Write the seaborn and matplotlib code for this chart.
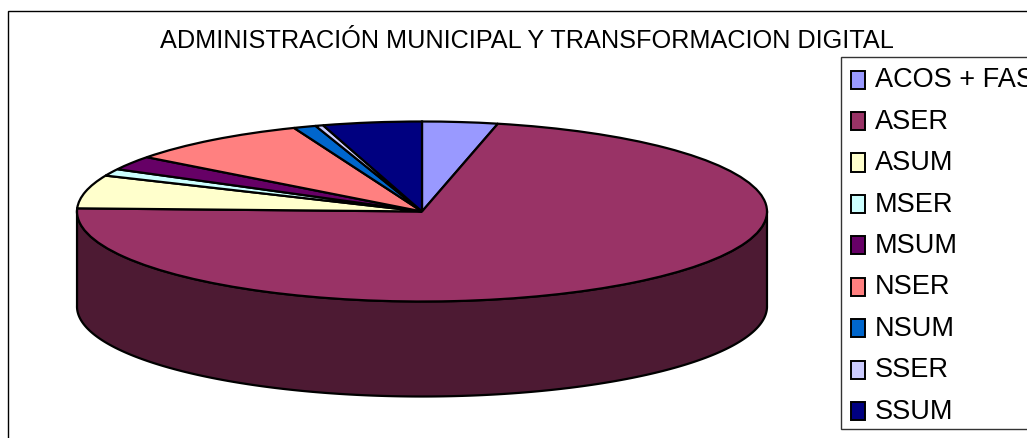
import numpy as np
import matplotlib
matplotlib.use("Agg")
import matplotlib.pyplot as plt
from matplotlib.legend_handler import HandlerPatch
from matplotlib.patches import Rectangle, Patch
import seaborn as sns

labels = ["ACOS + FAS", "ASER", "ASUM", "MSER", "MSUM", "NSER", "NSUM", "SSER", "SSUM"]
values = [3.53, 72.03, 5.97, 1.25, 2.53, 8.64, 1.06, 0.36, 4.63]
colors = ["#9999FF", "#993366", "#FFFFCC", "#CCFFFF", "#660066", "#FF8080", "#0066CC", "#CCCCFF", "#000080"]
title = "ADMINISTRACIÓN MUNICIPAL Y TRANSFORMACION DIGITAL"

sns.set_theme(style="white")
plt.rcParams["font.family"] = ["Liberation Sans", "DejaVu Sans"]

W, H = 1027, 439
fig = plt.figure(figsize=(W / 100, H / 100), dpi=100, facecolor="white")

# chart frame: the picture cuts it on the right and at the bottom
frame = Rectangle((8 / W, 1 - 480 / H), 1100 / W, 468 / H, transform=fig.transFigure,
                  fill=False, ec="black", lw=1.0)
fig.add_artist(frame)

# legend box, also cut by the picture on the right
legend_box = Rectangle((841 / W, 1 - 430 / H), 300 / W, 372 / H, transform=fig.transFigure,
                       fc="white", ec="#333333", lw=1.0)
fig.add_artist(legend_box)

# the axes box is exactly the top ellipse's bounding box
ax = fig.add_axes([77 / W, 1 - 302.5 / H, 690 / W, 180 / H])
palette = sns.color_palette(colors)
depth = 95 / 90

# side wall, drawn below the top from the same shares
fractions = np.array(values) / np.sum(values)
edges = np.pi / 2 - 2 * np.pi * np.concatenate([[0], np.cumsum(fractions)])
for start, stop, col in zip(edges[:-1], edges[1:], palette):
    a = np.linspace(start, stop, 400)
    a = a[np.sin(a) <= 0.02]
    if a.size < 2:
        continue
    x, y = np.cos(a), np.sin(a)
    dark = tuple(c * 0.5 for c in col)
    ax.fill(np.r_[x, x[::-1]], np.r_[y, y[::-1] - depth], fc=dark, ec="black", lw=1.6,
            clip_on=False, zorder=1)

wedges, _ = ax.pie(values, colors=palette, startangle=90, counterclock=False,
                   wedgeprops=dict(edgecolor="black", linewidth=1.6, zorder=2))
for w in wedges:
    w.set_clip_on(False)
ax.set_aspect("auto")
ax.set_xlim(-1, 1)
ax.set_ylim(-1, 1)

fig.text(526.5 / W, 1 - 41 / H, title, ha="center", va="center", fontsize=18.2, color="black")

handles = [Patch(fc=c, ec="black", lw=1.4) for c in palette]
fs = 19.5
px = fs * 100 / 72
leg = fig.legend(handles, labels, loc="upper left",
                 bbox_to_anchor=(841 / W, 1 - 56.5 / H), bbox_transform=fig.transFigure,
                 fontsize=fs, frameon=False,
                 handlelength=13.2 / px, handleheight=8 / px, handletextpad=10 / px,
                 labelspacing=(40.6 - px * 0.93) / px, borderpad=0.40, borderaxespad=0,
                 labelcolor="black",
                 handler_map={Patch: HandlerPatch(xpad=-0.8 / px, ypad=-6.2 / px)})

fig.savefig("out.png", dpi=100)
